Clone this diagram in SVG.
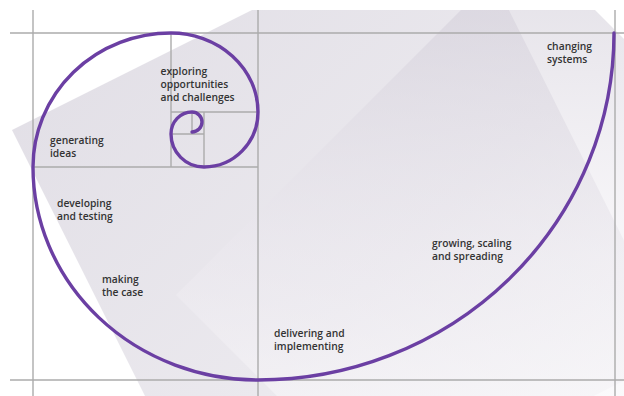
<svg xmlns="http://www.w3.org/2000/svg" width="624" height="396" viewBox="0 0 624 396">
  <defs>
    <linearGradient id="gA" x1="0" y1="0" x2="1" y2="1">
      <stop offset="0" stop-color="#dfdce4"/>
      <stop offset="0.55" stop-color="#ebe9ee"/>
      <stop offset="1" stop-color="#fdfdfd"/>
    </linearGradient>
    <linearGradient id="gB" x1="0" y1="0" x2="0" y2="1">
      <stop offset="0" stop-color="#c9c4d1" stop-opacity="0.55"/>
      <stop offset="0.45" stop-color="#eeebf1" stop-opacity="0.4"/>
      <stop offset="0.8" stop-color="#ffffff" stop-opacity="0.75"/>
      <stop offset="1" stop-color="#ffffff" stop-opacity="0.85"/>
    </linearGradient>
    <clipPath id="clip">
      <rect x="10" y="10" width="614" height="386"/>
    </clipPath>
    <style>
      .grid { stroke: #ababab; stroke-width: 1.4; fill: none; }
      .spiral { stroke: #6b3fa3; stroke-width: 3.4; fill: none; stroke-linecap: round; }
      .lbl { font-family: "Open Sans", "Liberation Sans", sans-serif; font-size: 10.3px; font-weight: 600; fill: #333333; }
    </style>
  </defs>
  <rect x="0" y="0" width="624" height="396" fill="#ffffff"/>
  <g id="background" clip-path="url(#clip)">
    <polygon points="12,130 457.6,-92.8 680,352.8 234.8,575.6" fill="url(#gA)"/>
    <polygon points="176,295 528,-57 880,295 528,647" fill="url(#gB)"/>
  </g>
  <g id="grid" class="grid">
    <line x1="10" y1="33" x2="624" y2="33"/>
    <line x1="10" y1="380" x2="624" y2="380"/>
    <line x1="33" y1="10" x2="33" y2="396"/>
    <line x1="258" y1="10" x2="258" y2="396"/>
    <line x1="615" y1="10" x2="615" y2="396"/>
    <line x1="33" y1="167" x2="258" y2="167"/>
    <line x1="171" y1="33" x2="171" y2="167"/>
    <line x1="171" y1="112" x2="258" y2="112"/>
    <line x1="204" y1="112" x2="204" y2="167"/>
    <line x1="171" y1="134" x2="204" y2="134"/>
    <line x1="192" y1="112" x2="192" y2="134"/>
  </g>
  <g id="connectors">
    <path class="spiral" d="M 614 33 A 356 347 0 0 1 258 380 A 225 213 0 0 1 33 167 A 138 134 0 0 1 171 33 A 87 79 0 0 1 258 112 A 54 55 0 0 1 204 167 A 33 33 0 0 1 171 134 A 21 22 0 0 1 192 112 A 10 10 0 0 1 192 132"/>
  </g>
  <g id="exploring" class="lbl">
    <text x="160.5" y="75">exploring</text>
    <text x="160.5" y="88">opportunities</text>
    <text x="160.5" y="101">and challenges</text>
  </g>
  <g id="generating" class="lbl">
    <text x="50" y="144">generating</text>
    <text x="50" y="157">ideas</text>
  </g>
  <g id="developing" class="lbl">
    <text x="57" y="207">developing</text>
    <text x="57" y="220">and testing</text>
  </g>
  <g id="making" class="lbl">
    <text x="102" y="283">making</text>
    <text x="102" y="296">the case</text>
  </g>
  <g id="delivering" class="lbl">
    <text x="274" y="337">delivering and</text>
    <text x="274" y="350">implementing</text>
  </g>
  <g id="growing" class="lbl">
    <text x="432" y="247">growing, scaling</text>
    <text x="432" y="260">and spreading</text>
  </g>
  <g id="changing" class="lbl">
    <text x="547" y="50">changing</text>
    <text x="547" y="63">systems</text>
  </g>
</svg>
